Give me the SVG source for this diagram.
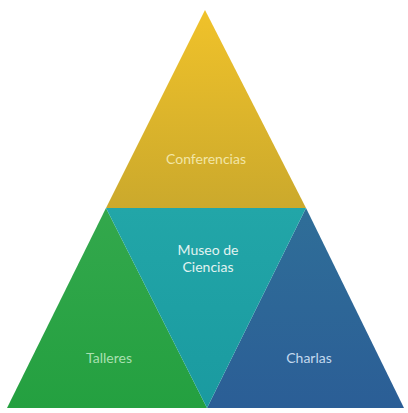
<svg xmlns="http://www.w3.org/2000/svg" width="408" height="413" viewBox="0 0 408 413">
<style>
text{font-family:"Lato","Open Sans","Liberation Sans",sans-serif;font-size:14px;text-anchor:middle}
</style>
<defs>
<linearGradient id="gy" x1="0" y1="0" x2="0" y2="1"><stop offset="0" stop-color="#F0C22A"/><stop offset="1" stop-color="#CBA92C"/></linearGradient>
<linearGradient id="gt" x1="0" y1="0" x2="0" y2="1"><stop offset="0" stop-color="#22A6A8"/><stop offset="1" stop-color="#1A9AA0"/></linearGradient>
<linearGradient id="gg" x1="0" y1="0" x2="0" y2="1"><stop offset="0" stop-color="#33A84C"/><stop offset="1" stop-color="#24A040"/></linearGradient>
<linearGradient id="gb" x1="0" y1="0" x2="0" y2="1"><stop offset="0" stop-color="#2F6E98"/><stop offset="1" stop-color="#2B5E96"/></linearGradient>
</defs>
<rect width="408" height="413" fill="#ffffff"/>
<g id="conferencias">
<polygon points="205,10 306,208 106,208" fill="url(#gy)"/>
<text x="206" y="164" fill="#F2E6A6">Conferencias</text>
</g>
<g id="talleres">
<polygon points="106,208 207,408 7,408" fill="url(#gg)"/>
<text x="109" y="363" fill="#A9E0B0">Talleres</text>
</g>
<g id="charlas">
<polygon points="306,208 404,408 207,408" fill="url(#gb)"/>
<text x="309" y="363" fill="#C3D9EE">Charlas</text>
</g>
<g id="museo">
<polygon points="106,208 306,208 207,408" fill="url(#gt)"/>
<text x="208" y="255" fill="#E2F3F1">Museo de</text>
<text x="208" y="272" fill="#E2F3F1">Ciencias</text>
</g>
<g id="connectors"/>
</svg>
